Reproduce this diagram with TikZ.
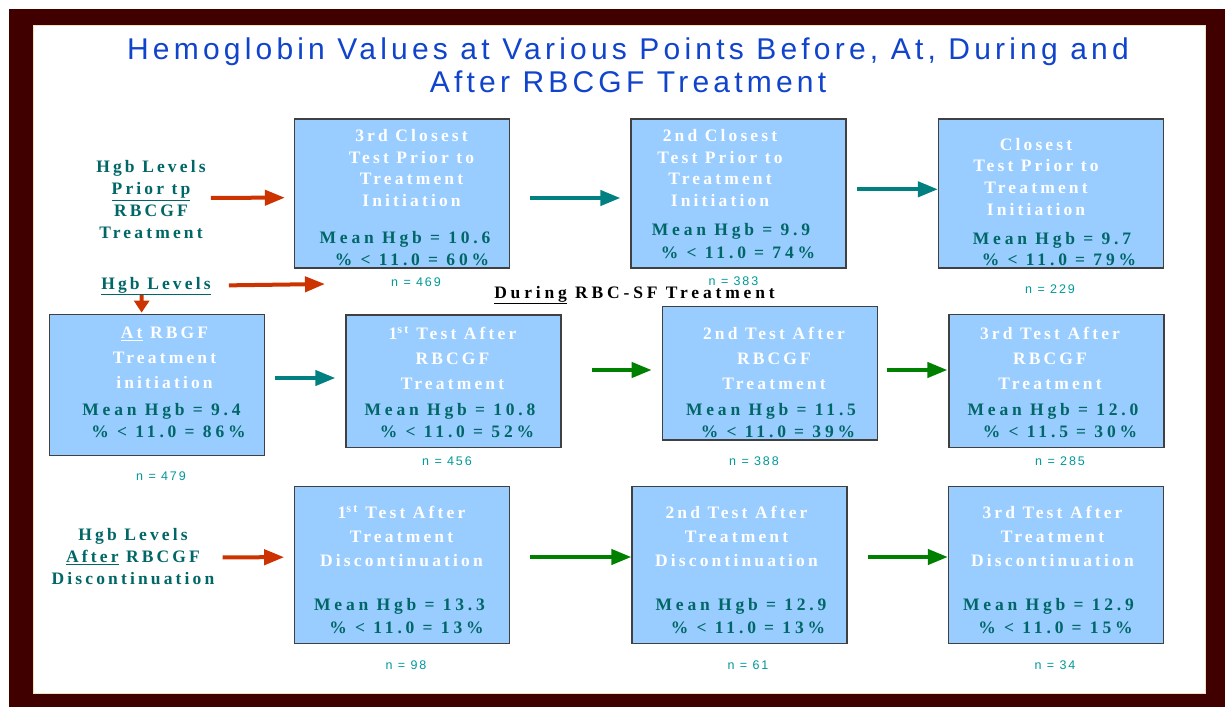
\documentclass[tikz,border=0pt]{standalone}
\usepackage{fontspec}
\setmainfont{Liberation Serif}
\newfontfamily\titlefont{Liberation Sans}[LetterSpace=14]
\newfontfamily\boxfont{Liberation Serif}[LetterSpace=18]
\newfontfamily\statfont{Liberation Serif}[LetterSpace=22]
\newfontfamily\nfont{Liberation Sans}[LetterSpace=15]
\usetikzlibrary{arrows.meta}
\definecolor{frame}{HTML}{400000}
\definecolor{edgebeige}{HTML}{F2E2B8}
\definecolor{boxblue}{HTML}{99CCFF}
\definecolor{darkteal}{HTML}{006666}
\definecolor{nteal}{HTML}{009999}
\definecolor{redarr}{HTML}{CC3300}
\definecolor{tealarr}{HTML}{008080}
\definecolor{greenarr}{HTML}{008000}
\definecolor{titleblue}{HTML}{1144CC}
\tikzstyle{panel}=[draw=black!75,line width=1.2pt,fill=boxblue,inner sep=0pt,minimum width=215pt]
\tikzstyle{nlabel}=[text=nteal,anchor=base,inner sep=0pt,font=\nfont\fontsize{12.5}{15}\selectfont]
\tikzstyle{sidelabel}=[text=darkteal,align=center,inner sep=0pt,font=\boxfont\bfseries\fontsize{17.5}{22}\selectfont]
\tikzstyle{titletext}=[text=titleblue,align=center,inner sep=0pt,font=\titlefont\fontsize{30}{33}\selectfont]
\tikzstyle{redline}=[draw=redarr,line width=4pt,-{Triangle[length=20pt,width=15pt]}]
\tikzstyle{tealline}=[draw=tealarr,line width=4pt,-{Triangle[length=20pt,width=15pt]}]
\tikzstyle{greenline}=[draw=greenarr,line width=4pt,-{Triangle[length=20pt,width=15pt]}]
\tikzset{
  headtext/.style={text=white,align=center,inner sep=0pt,font=\boxfont\bfseries\fontsize{17.5}{#1}\selectfont},
  headtext/.default=21.5,
  stats/.style={text=darkteal,align=center,inner sep=0pt,font=\statfont\bfseries\fontsize{17.5}{#1}\selectfont},
  stats/.default=22.5
}

\begin{document}
\begin{tikzpicture}[x=1pt,y=-1pt]
        \useasboundingbox (0,0) rectangle (1225,707);
        % frame
        \fill[white] (0,0) rectangle (1225,707);
        \fill[frame] (9,9) rectangle (1225,707);
        \filldraw[fill=white,draw=edgebeige,line width=0.8pt] (33,25) rectangle (1205,693);
        \node[titletext] (title) at (628,65.5) {Hemoglobin Values at Various Points Before, At, During and\\After RBCGF Treatment};

        % before treatment
        \node[panel,minimum height=149pt] (b1) at (402,193.5) {};
        \node[panel,minimum height=149pt] (b2) at (738.5,193.5) {};
        \node[panel,minimum height=149pt,minimum width=225pt] (b3) at (1051,193.5) {};
        \node[headtext] (b1h) at (411.5,168.2) {3rd Closest\\Test Prior to\\Treatment\\Initiation};
        \node[headtext] (b2h) at (720,168.2) {2nd Closest\\Test Prior to\\Treatment\\Initiation};
        \node[headtext=21.7] (b3h) at (1036,176.7) {Closest\\Test Prior to\\Treatment\\Initiation};
        \node[stats=22.7] (b1s) at (405,248.5) {Mean Hgb = 10.6\\\hspace*{14pt}\% < 11.0 = 60\%};
        \node[stats=22.7] (b2s) at (731,241.2) {Mean Hgb = 9.9\\\hspace*{14pt}\% < 11.0 = 74\%};
        \node[stats=21.7] (b3s) at (1052,249) {Mean Hgb = 9.7\\\hspace*{14pt}\% < 11.0 = 79\%};
        \node[nlabel] (b1n) at (416,286.3) {n = 469};
        \node[nlabel] (b2n) at (733.5,285.7) {n = 383};
        \node[nlabel] (b3n) at (1050,293.7) {n = 229};

        % at and during treatment
        \node[panel,minimum height=141pt] (a0) at (157,385.2) {};
        \node[panel,minimum height=132.7pt] (a1) at (453.5,381.3) {};
        \node[panel,minimum height=133.3pt] (a2) at (769.8,373.3) {};
        \node[panel,minimum height=133.4pt] (a3) at (1056.5,381) {};
        \node[headtext=25] (a0h) at (164.5,358.2) {\underline{At} RBGF\\Treatment\\initiation};
        \node[headtext=25] (a1h) at (452.5,358.2) {1\textsuperscript{st} Test After\\RBCGF\\Treatment};
        \node[headtext=25] (a2h) at (774,358.2) {2nd Test After\\RBCGF\\Treatment};
        \node[headtext=25] (a3h) at (1050,358.2) {3rd Test After\\RBCGF\\Treatment};
        \node[stats=21.5] (a0s) at (161.5,420.6) {Mean Hgb = 9.4\\\hspace*{14pt}\% < 11.0 = 86\%};
        \node[stats=21.5] (a1s) at (450,420.6) {Mean Hgb = 10.8\\\hspace*{14pt}\% < 11.0 = 52\%};
        \node[stats=21.5] (a2s) at (771,420.6) {Mean Hgb = 11.5\\\hspace*{14pt}\% < 11.0 = 39\%};
        \node[stats=21.5] (a3s) at (1053,420.6) {Mean Hgb = 12.0\\\hspace*{14pt}\% < 11.5 = 30\%};
        \node[nlabel] (a0n) at (161,480.7) {n = 479};
        \node[nlabel] (a1n) at (447,465.7) {n = 456};
        \node[nlabel] (a2n) at (754,465.7) {n = 388};
        \node[nlabel] (a3n) at (1060,465.7) {n = 285};
        \node[anchor=base,inner sep=0pt,font=\statfont\bfseries\fontsize{17.5}{21}\selectfont] (during) at (634.5,298) {\underline{During} RBC-SF Treatment};

        % after discontinuation
        \node[panel,minimum height=157pt] (c1) at (402.3,565.2) {};
        \node[panel,minimum height=157pt] (c2) at (739.5,565.2) {};
        \node[panel,minimum height=157pt] (c3) at (1056,565.2) {};
        \node[headtext=23.9] (c1h) at (401.5,536.1) {1\textsuperscript{st} Test After\\Treatment\\Discontinuation};
        \node[headtext=23.9] (c2h) at (736.5,536.1) {2nd Test After\\Treatment\\Discontinuation};
        \node[headtext=23.9] (c3h) at (1052.5,536.1) {3rd Test After\\Treatment\\Discontinuation};
        \node[stats=22.3] (c1s) at (399.5,616) {Mean Hgb = 13.3\\\hspace*{14pt}\% < 11.0 = 13\%};
        \node[stats=22.3] (c2s) at (741,616) {Mean Hgb = 12.9\\\hspace*{14pt}\% < 11.0 = 13\%};
        \node[stats=22.3] (c3s) at (1048.5,616) {Mean Hgb = 12.9\\\hspace*{14pt}\% < 11.0 = 15\%};
        \node[nlabel] (c1n) at (406,669) {n = 98};
        \node[nlabel] (c2n) at (748,669) {n = 61};
        \node[nlabel] (c3n) at (1055,669) {n = 34};

        % row labels
        \node[sidelabel] (l1) at (151,199.8) {Hgb Levels\\\underline{Prior tp}\\RBCGF\\Treatment};
        \node[sidelabel,anchor=base] (l2) at (156,289) {\underline{Hgb Levels}};
        \node[sidelabel] (l3) at (133,556.7) {Hgb Levels\\\underline{After} RBCGF\\Discontinuation};
        \coordinate (r2end) at (325,284);

        \path[redline] ([xshift=5pt,yshift=2pt]l1.east) -- ([xshift=-9pt,yshift=-4.2pt]b1.west);
        \path[redline] ([xshift=18pt,yshift=0.5pt]l2.east) -- (r2end);
        \path[redline,-{Triangle[length=12pt,width=15pt]}] ([xshift=-14.3pt]l2.south) -- ([xshift=-15.4pt,yshift=1.5pt]a0.north);
        \path[redline] ([xshift=8pt,yshift=-0.6pt]l3.east) -- ([xshift=-10pt,yshift=8pt]c1.west);
        \path[tealline] ([xshift=20pt,yshift=-4.5pt]b1.east) -- ([xshift=-10pt,yshift=-4.5pt]b2.west);
        \path[tealline] ([xshift=10.7pt,yshift=4.2pt]b2.east) -- ([yshift=4.2pt]b3.west);
        \path[tealline] ([xshift=9.4pt,yshift=7.2pt]a0.east) -- ([xshift=-10pt,yshift=3.3pt]a1.west);
        \path[greenline] ([xshift=30.5pt,yshift=11.3pt]a1.east) -- ([xshift=-10pt,yshift=3.3pt]a2.west);
        \path[greenline] ([xshift=9.5pt,yshift=3.3pt]a2.east) -- ([xshift=-1pt,yshift=11pt]a3.west);
        \path[greenline] ([xshift=20pt,yshift=8.2pt]c1.east) -- ([yshift=8.2pt]c2.west);
        \path[greenline] ([xshift=20pt,yshift=8.2pt]c2.east) -- ([yshift=8.2pt]c3.west);
\end{tikzpicture}
\end{document}
